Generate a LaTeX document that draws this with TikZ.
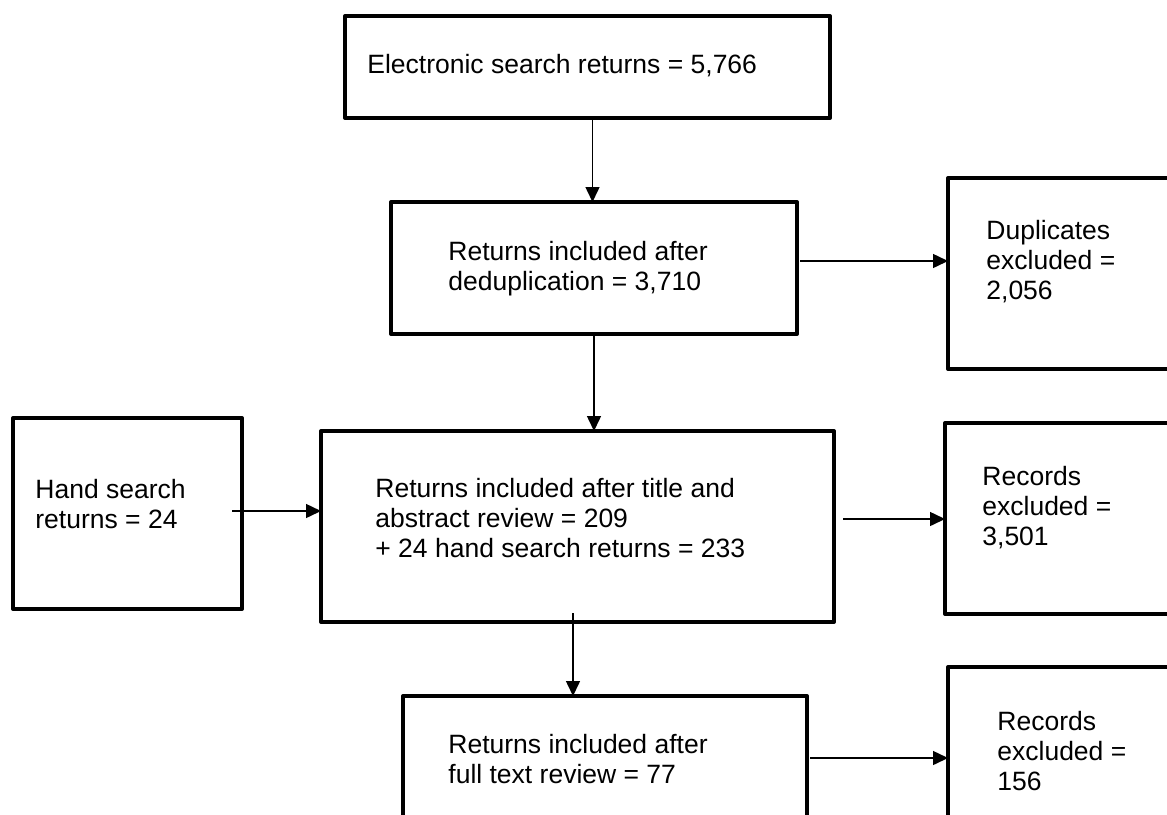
\documentclass[tikz,border=0pt]{standalone}
\usepackage{fontspec}
\setmainfont{Liberation Sans}
\usetikzlibrary{calc}
\usetikzlibrary{arrows.meta}

\begin{document}
\begin{tikzpicture}[x=.5pt, y=-.5pt,
  box/.style 2 args={draw, line width=2pt, line join=round, inner sep=0, outer sep=0, anchor=north west, minimum width=#1, minimum height=#2},
  txt/.style={anchor=north west, inner sep=0, align=left, font=\fontsize{13.25}{15}\selectfont},
  arr/.style={-{Triangle[length=7.5pt, width=7pt]}, line width=.75pt}]
\clip (0,0) rectangle (1167,814);

\node[box={242.5pt}{51pt}] (elec) at (345,16) {};
\node[box={203pt}{66pt}] (dedup) at (391,202) {};
\node[box={130pt}{95.5pt}] (dup) at (948,178) {};
\node[box={114.5pt}{95.5pt}] (hand) at (13,418) {};
\node[box={256.5pt}{95.5pt}] (title) at (321,431) {};
\node[box={130pt}{95.5pt}] (recA) at (945,423) {};
\node[box={202pt}{62pt}] (full) at (403,696) {};
\node[box={130pt}{91pt}] (recB) at (948,667) {};

\node[txt] (elec-t) at (367,54) {Electronic search returns = 5,766};
\node[txt] (dedup-t) at (448,241) {Returns included after\\deduplication = 3,710};
\node[txt] (dup-t) at (986,220) {Duplicates\\excluded =\\2,056};
\node[txt] (hand-t) at (35,479) {Hand search\\returns = 24};
\node[txt] (title-t) at (375,478) {Returns included after title and\\abstract review = 209\\+ 24 hand search returns = 233};
\node[txt] (recA-t) at (982,466) {Records\\excluded =\\3,501};
\node[txt] (full-t) at (448,734) {Returns included after\\full text review = 77};
\node[txt] (recB-t) at (997,711) {Records\\excluded =\\156};

\draw[arr] ([xshift=2.5pt]elec.south) -- ([xshift=2.5pt]elec.south |- dedup.north);
\draw[arr] ([shift={(1.5pt,3.5pt)}]dedup.east) -- ([yshift=3.5pt]dedup.east -| dup.west);
\draw[arr] (dedup.south) -- (dedup.south |- title.north);
\draw[arr] ([shift={(-5pt,1.25pt)}]hand.east) -- ([yshift=1.25pt]hand.east -| title.west);
\draw[arr] ([shift={(4.5pt,3.75pt)}]title.east) -- ([yshift=3.75pt]title.east -| recA.west);
\draw[arr] ([shift={(-2.25pt,4.5pt)}]title.south) -- ([xshift=-2.25pt]title.south |- full.north);
\draw[arr] ([xshift=1.5pt]full.east) -- (recB.west);

\end{tikzpicture}
\end{document}
